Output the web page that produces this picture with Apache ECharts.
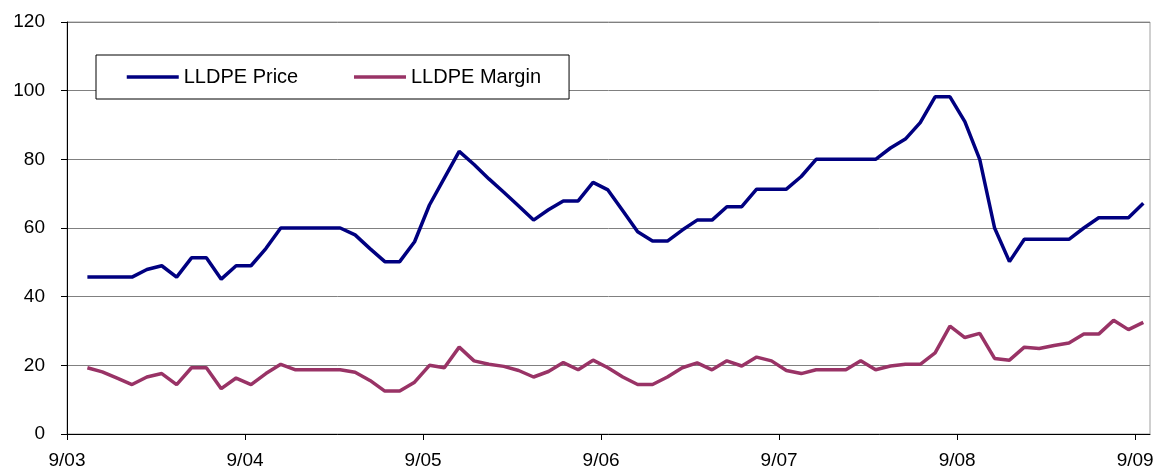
<!DOCTYPE html>
<html>
<head>
<meta charset="utf-8">
<title>LLDPE Price / Margin</title>
<script src="https://cdn.jsdelivr.net/npm/echarts@6/dist/echarts.min.js"></script>
<style>
    html, body { margin: 0; padding: 0; background: #fff; }
    #lldpeChartDiv { width: 1162px; height: 469px; }
</style>
</head>
<body>
<div id="lldpeChartDiv"></div>
<script>
// x axis labels, one per year (every 12 months)
var tickLabels = ['9/03', '9/04', '9/05', '9/06', '9/07', '9/08', '9/09'];
var seriesNames = ['LLDPE Price', 'LLDPE Margin'];

// monthly values
var priceData = [
    45.7, 45.7, 45.7, 45.7, 47.9, 49, 45.7, 51.3, 51.3, 45.1, 49, 49,
    54, 60, 60, 60, 60, 60, 58, 54, 50.2, 50.2, 56, 66.7,
    74.5, 82.3, 78.5, 74.3, 70.4, 66.4, 62.3, 65.3, 67.9, 67.9, 73.3, 71.1,
    65, 58.9, 56.2, 56.2, 59.4, 62.3, 62.3, 66.2, 66.2, 71.3, 71.3, 71.3,
    75, 80, 80, 80, 80, 80, 83.3, 85.9, 90.7, 98.2, 98.2, 91,
    80, 60, 50.2, 56.7, 56.7, 56.7, 56.7, 60, 63, 63, 63, 67.2
];
var marginData = [
    19.3, 18.1, 16.3, 14.4, 16.6, 17.6, 14.4, 19.3, 19.3, 13.2, 16.3, 14.4,
    17.6, 20.3, 18.7, 18.7, 18.7, 18.7, 18, 15.6, 12.5, 12.5, 15.1, 20,
    19.3, 25.3, 21.3, 20.3, 19.7, 18.5, 16.6, 18.2, 20.8, 18.7, 21.5, 19.3,
    16.6, 14.4, 14.4, 16.6, 19.3, 20.7, 18.7, 21.3, 19.8, 22.4, 21.3, 18.5,
    17.6, 18.7, 18.7, 18.7, 21.3, 18.7, 19.8, 20.3, 20.3, 23.6, 31.4, 28.1,
    29.3, 22, 21.5, 25.3, 24.9, 25.8, 26.5, 29.1, 29.1, 33.1, 30.4, 32.5
];

var myChart = null;

$ready(function () {
    initializeEcharts();
});

function $ready(fn) {
    if (document.readyState !== 'loading') fn();
    else document.addEventListener('DOMContentLoaded', fn);
}

/**
 * init chart
 */
function initializeEcharts() {
    myChart = echarts.init(document.getElementById('lldpeChartDiv'), null, {renderer: 'canvas'});
    echartsOption();
}

function toPoints(arr) {
    var out = [];
    for (var i = 0; i < arr.length; i++) {
        out.push([i, arr[i]]);
    }
    return out;
}

function echartsOption() {
    var tickValues = [];
    for (var i = 0; i < tickLabels.length; i++) {
        tickValues.push(i * 12);
    }
    var font = 'Liberation Sans, Arial, sans-serif';

    myChart.setOption({
        animation: false,
        backgroundColor: '#fff',
        textStyle: {fontFamily: font},
        legend: {
            data: seriesNames,
            left: 96,
            top: 55,
            orient: 'horizontal',
            padding: [12, 28, 12, 29],
            itemGap: 54,
            itemWidth: 52,
            itemHeight: 14,
            borderColor: '#000',
            borderWidth: 1,
            backgroundColor: '#fff',
            itemStyle: {opacity: 0}, // no marker, only the line
            lineStyle: {width: 3.5},
            textStyle: {color: '#000', fontSize: 20, fontFamily: font}
        },
        grid: {
            left: 67,
            right: 12,
            top: 22,
            bottom: 35,
            show: true,
            borderColor: '#a0a0a0',
            borderWidth: 1,
            outerBoundsMode: 'none'
        },
        xAxis: [{
            // visible axis: ticks every 12 months
            type: 'value',
            min: 0,
            max: 73,
            axisLine: {show: true, lineStyle: {color: '#000', width: 1}},
            axisTick: {show: true, length: 6, customValues: tickValues, lineStyle: {color: '#000'}},
            axisLabel: {
                customValues: tickValues,
                margin: 17,
                color: '#000',
                fontSize: 19,
                fontFamily: font,
                formatter: function (v) {
                    return tickLabels[Math.round(v / 12)];
                }
            },
            splitLine: {show: false}
        }, {
            // hidden axis the monthly points sit on
            type: 'value',
            show: false,
            min: -1.371,
            max: 71.45
        }],
        yAxis: {
            type: 'value',
            min: 0,
            max: 120,
            interval: 20,
            axisLine: {show: true, lineStyle: {color: '#000', width: 1}},
            axisTick: {show: true, length: 6, lineStyle: {color: '#000'}},
            axisLabel: {margin: 22, color: '#000', fontSize: 19, fontFamily: font},
            splitLine: {show: true, lineStyle: {color: '#808080', width: 1}}
        },
        series: [{
            name: seriesNames[0],
            type: 'line',
            xAxisIndex: 1,
            symbol: 'none',
            lineStyle: {color: '#000080', width: 3.5},
            itemStyle: {color: '#000080'},
            data: toPoints(priceData)
        }, {
            name: seriesNames[1],
            type: 'line',
            xAxisIndex: 1,
            symbol: 'none',
            lineStyle: {color: '#993366', width: 3.5},
            itemStyle: {color: '#993366'},
            data: toPoints(marginData)
        }]
    });
}
</script>
</body>
</html>
